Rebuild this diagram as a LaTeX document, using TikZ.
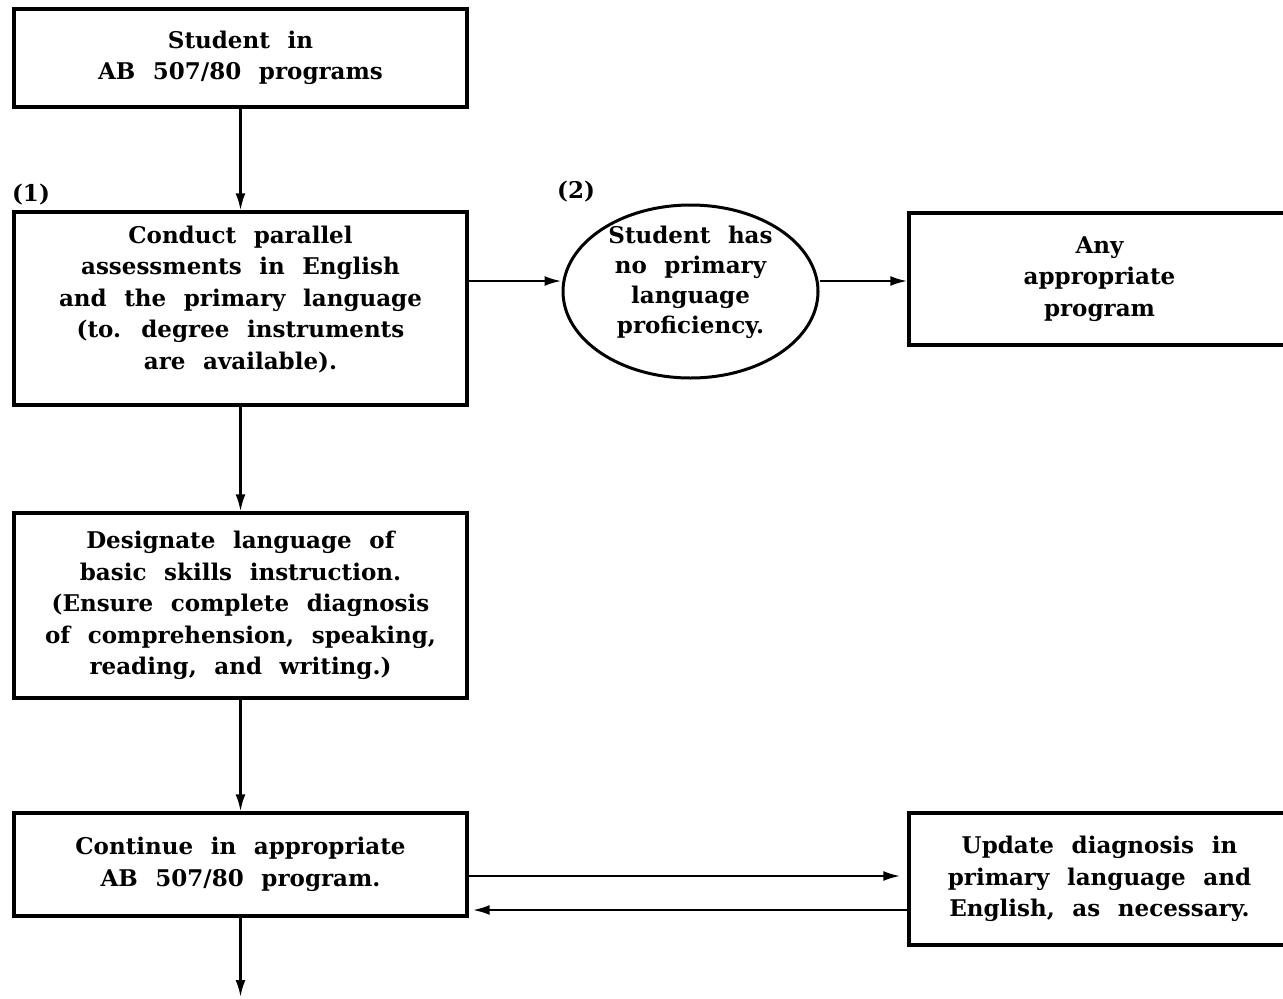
\documentclass[tikz,border=0pt]{standalone}
\usepackage{fontspec}
\setmainfont[WordSpace=2.2]{DejaVu Serif}
\usetikzlibrary{arrows.meta,shapes.geometric}

\begin{document}
\begin{tikzpicture}
			[x=1pt,y=-1pt,
			every node/.style={font=\bfseries\fontsize{23}{31.5}\selectfont,align=center,inner sep=0pt},
			box/.style={draw,line width=3.4pt,minimum width=453pt},
			oval/.style={ellipse,draw,line width=3pt,minimum width=255pt,minimum height=173pt,
				inner ysep=-12pt,font=\bfseries\fontsize{23}{30}\selectfont},
			flow/.style={line width=2.4pt,-{Latex[length=17pt,width=10pt]}}]
			\useasboundingbox (0,0) rectangle (1283,999);
			\node[box,minimum height=98pt]  (b1) at (240.5,58)    {Student in\\AB 507/80 programs};
			\node[box,minimum height=193pt] (b2) at (240.5,308.5) {Conduct parallel\\assessments in English\\and the primary language\\(to. degree instruments\\are available).\rule[-22pt]{0pt}{22pt}};
			\node[box,minimum height=185pt] (b4) at (240.5,605.5) {Designate language of\\basic skills instruction.\\(Ensure complete diagnosis\\of comprehension, speaking,\\reading, and writing.)};
			\node[box,minimum height=103pt] (b5) at (240.5,864.5) {Continue in appropriate\\AB 507/80 program.};
			\node[oval] (ell) at (690.5,291.5) {Student has\\no primary\\language\\proficiency.\rule[-24pt]{0pt}{24pt}};
			\node[box,minimum width=381pt,minimum height=132pt] (b3) at (1099.5,279) {Any\\appropriate\\program};
			\node[box,minimum width=381pt,minimum height=132pt] (b6) at (1099.5,879) {Update diagnosis in\\primary language and\\English, as necessary.};
			\node (n1) at (31,195) {(1)};
			\node (n2) at (576,192) {(2)};
			
			\coordinate (r2) at (0,281);
			\coordinate (up) at (0,876);
			\coordinate (dn) at (0,910);
			\coordinate (out) at (240.5,997);
			
			\foreach \from/\to in {b1/b2,b2/b4,b4/b5,b5/out}
			\draw[flow] (\from) -- (\to);
			\draw[flow] (b2.east |- r2) -- (ell.west |- r2);
			\draw[flow] (ell.east |- r2) -- (b3.west |- r2);
			\draw[flow,shorten >=7pt] (b5.east |- up) -- (b6.west |- up);
			\draw[flow,shorten >=4pt] (b6.west |- dn) -- (b5.east |- dn);
			\end{tikzpicture}
\end{document}
